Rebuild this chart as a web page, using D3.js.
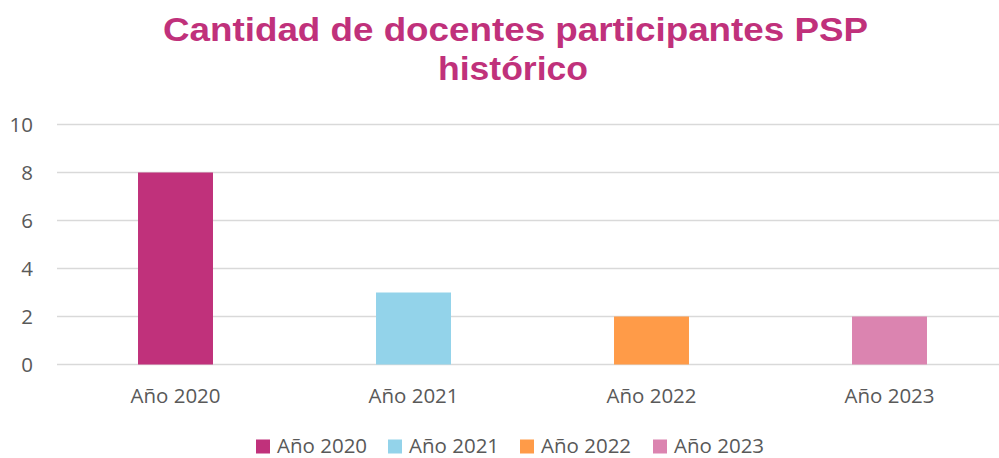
<!DOCTYPE html>
<html><head><meta charset="utf-8">
<script src="https://cdn.jsdelivr.net/npm/d3@7"></script>
<style>body{margin:0;background:#fff}svg{display:block}</style>
</head><body>
<svg id="c" width="999" height="458"></svg>
<script>
const categories = ["Año 2020", "Año 2021", "Año 2022", "Año 2023"];
const values = [8, 3, 2, 2];
const colors = ["#C0317B", "#93D3EA", "#FF9B48", "#DB84B0"];
const yTicks = [0, 2, 4, 6, 8, 10];
const titleLines = ["Cantidad de docentes participantes PSP", "histórico"];

const svg = d3.select("#c");
const W = 999, H = 458;
const font = "'Open Sans', sans-serif";
const fs = 20.5;

const x = d3.scaleBand().domain(categories).range([56.5, 1008.5]).padding(0);
const y = d3.scaleLinear().domain([0, 10]).range([364.5, 124.5]);
const barW = x.bandwidth() * 0.315;

// title
svg.append("text").attr("x", 515.5).attr("y", 41)
  .attr("text-anchor", "middle").attr("font-family", "'Liberation Sans', Arial, sans-serif")
  .attr("font-weight", "bold").attr("font-size", 34).attr("fill", "#C0317B")
  .attr("textLength", 705).attr("lengthAdjust", "spacingAndGlyphs")
  .text(titleLines[0]);
svg.append("text").attr("x", 513).attr("y", 80)
  .attr("text-anchor", "middle").attr("font-family", "'Liberation Sans', Arial, sans-serif")
  .attr("font-weight", "bold").attr("font-size", 34).attr("fill", "#C0317B")
  .attr("textLength", 150).attr("lengthAdjust", "spacingAndGlyphs")
  .text(titleLines[1]);

// gridlines
svg.append("g").selectAll("line").data(yTicks).join("line")
  .attr("x1", 57).attr("x2", W).attr("y1", d => y(d)).attr("y2", d => y(d))
  .attr("stroke", "#D9D9D9").attr("stroke-width", 1.5);

// y axis labels
const yAxis = d3.axisLeft(y).tickValues(yTicks).tickSize(0).tickPadding(0);
const gy = svg.append("g").attr("transform", "translate(33,0)").call(yAxis);
gy.select(".domain").remove();
gy.selectAll("text").attr("font-family", font).attr("font-size", fs).attr("fill", "#595959");

// bars
svg.append("g").selectAll("rect").data(categories).join("rect")
  .attr("x", d => x(d) + x.bandwidth() / 2 - barW / 2)
  .attr("width", barW)
  .attr("y", (d, i) => y(values[i]))
  .attr("height", (d, i) => y(0) - y(values[i]))
  .attr("fill", (d, i) => colors[i]);

// x axis labels
const xAxis = d3.axisBottom(x).tickSize(0).tickPadding(0);
const gx = svg.append("g").call(xAxis);
gx.select(".domain").remove();
gx.selectAll("text").attr("font-family", font).attr("font-size", fs).attr("fill", "#595959")
  .attr("dy", null).attr("y", 403);

// legend
const legX = [256, 388, 520, 653];
const leg = svg.append("g").selectAll("g").data(categories).join("g")
  .attr("transform", (d, i) => `translate(${legX[i]},439.5)`);
leg.append("rect").attr("width", 14).attr("height", 14).attr("fill", (d, i) => colors[i]);
leg.append("text").attr("x", 21).attr("y", 13).attr("font-family", font)
  .attr("font-size", fs).attr("fill", "#595959").text(d => d);
</script>
</body></html>
